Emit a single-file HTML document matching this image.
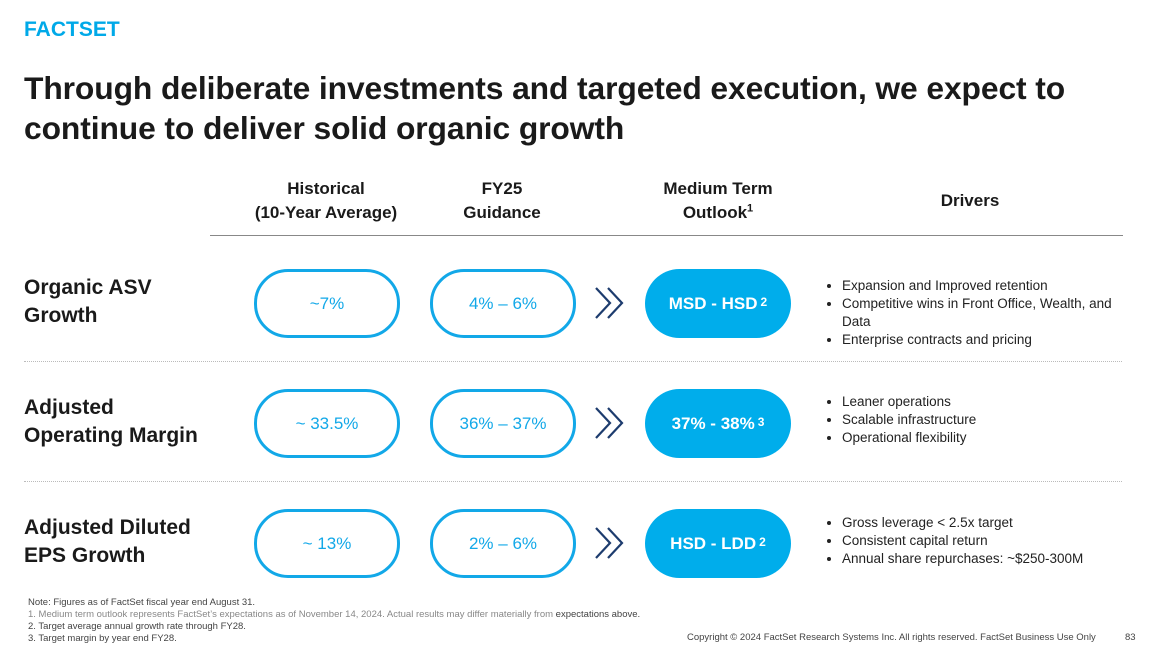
<!DOCTYPE html>
<html><head><meta charset="utf-8"><style>
body{margin:0;width:1158px;height:647px;background:#fff;font-family:"Liberation Sans",sans-serif;position:relative;overflow:hidden;color:#111}
.a{position:absolute}
.logo{left:24px;top:18px;font-size:21px;font-weight:bold;color:#00a9e8;line-height:24px}
.title{left:24px;top:68px;font-size:31.8px;font-weight:bold;line-height:40px;color:#1a1a1a;letter-spacing:-0.1px}
.hd{font-size:17px;font-weight:bold;text-align:center;line-height:24px;color:#1a1a1a}
.hd sup{font-size:11px;line-height:0}
.rl{left:24px;font-size:21px;font-weight:bold;line-height:28px;color:#1a1a1a}
.pill{width:140px;height:63px;border:3px solid #12a8e8;border-radius:34px;display:flex;align-items:center;justify-content:center;font-size:17px;color:#12a8e8;box-sizing:content-box}
.fill{width:146px;height:69px;background:#00adeb;border-radius:35px;display:flex;align-items:center;justify-content:center;font-size:17px;font-weight:bold;color:#fff}
.fill sup{font-size:12px;margin-left:3px;position:relative;top:-2px}
.sep{left:24px;width:1098px;border-top:1px dotted #bbb}
ul{margin:0;padding-left:25px;font-size:13.5px;line-height:18px;color:#222;list-style:disc;width:290px}
.fn{left:28px;font-size:9.5px;color:#444;line-height:12px}
</style></head><body>
<div class="a logo">FACTSET</div>
<div class="a title">Through deliberate investments and targeted execution, we expect to<br>continue to deliver solid organic growth</div>

<div class="a hd" style="left:236px;top:177px;width:180px">Historical<br>(10-Year Average)</div>
<div class="a hd" style="left:442px;top:177px;width:120px">FY25<br>Guidance</div>
<div class="a hd" style="left:638px;top:177px;width:160px">Medium Term<br>Outlook<sup>1</sup></div>
<div class="a hd" style="left:900px;top:189px;width:140px">Drivers</div>
<div class="a" style="left:210px;top:235px;width:913px;border-top:1.5px solid #888"></div>

<div class="a rl" style="top:274px">Organic ASV<br>Growth</div>
<div class="a pill" style="left:254px;top:269px">~7%</div>
<div class="a pill" style="left:430px;top:269px">4% – 6%</div>
<svg class="a" style="left:594px;top:286px" width="34" height="34"><path d="M2 2L16 17L2 32M14 2L28 17L14 32" fill="none" stroke="#1d3c6e" stroke-width="2.2"/></svg>
<div class="a fill" style="left:645px;top:269px">MSD - HSD<sup>2</sup></div>
<div class="a" style="left:817px;top:277px"><ul><li>Expansion and Improved retention</li><li>Competitive wins in Front Office, Wealth, and Data</li><li>Enterprise contracts and pricing</li></ul></div>

<div class="a sep" style="top:361px"></div>

<div class="a rl" style="top:394px">Adjusted<br>Operating Margin</div>
<div class="a pill" style="left:254px;top:389px">~ 33.5%</div>
<div class="a pill" style="left:430px;top:389px">36% – 37%</div>
<svg class="a" style="left:594px;top:406px" width="34" height="34"><path d="M2 2L16 17L2 32M14 2L28 17L14 32" fill="none" stroke="#1d3c6e" stroke-width="2.2"/></svg>
<div class="a fill" style="left:645px;top:389px">37% - 38%<sup>3</sup></div>
<div class="a" style="left:817px;top:393px"><ul><li>Leaner operations</li><li>Scalable infrastructure</li><li>Operational flexibility</li></ul></div>

<div class="a sep" style="top:481px"></div>

<div class="a rl" style="top:514px">Adjusted Diluted<br>EPS Growth</div>
<div class="a pill" style="left:254px;top:509px">~ 13%</div>
<div class="a pill" style="left:430px;top:509px">2% – 6%</div>
<svg class="a" style="left:594px;top:526px" width="34" height="34"><path d="M2 2L16 17L2 32M14 2L28 17L14 32" fill="none" stroke="#1d3c6e" stroke-width="2.2"/></svg>
<div class="a fill" style="left:645px;top:509px">HSD - LDD<sup>2</sup></div>
<div class="a" style="left:817px;top:514px"><ul><li>Gross leverage &lt; 2.5x target</li><li>Consistent capital return</li><li>Annual share repurchases: ~$250-300M</li></ul></div>

<div class="a fn" style="top:597px">Note: Figures as of FactSet fiscal year end August 31.<br><span style="color:#888">1. Medium term outlook represents FactSet’s expectations as of November 14, 2024. Actual results may differ materially from</span> expectations above.<br>2. Target average annual growth rate through FY28.<br>3. Target margin by year end FY28.</div>
<div class="a" style="left:687px;top:632px;font-size:9.5px;color:#444">Copyright © 2024 FactSet Research Systems Inc. All rights reserved. FactSet Business Use Only</div>
<div class="a" style="left:1125px;top:632px;font-size:9.5px;color:#444">83</div>
</body></html>
